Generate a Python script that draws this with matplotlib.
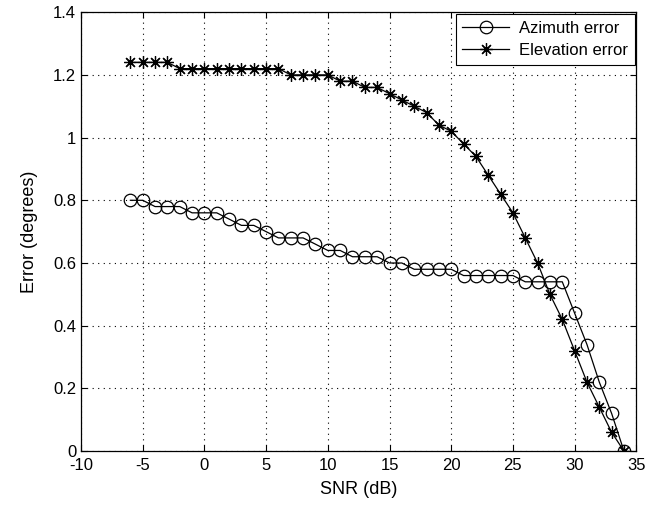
import matplotlib
matplotlib.use("Agg")
import matplotlib.pyplot as plt

snr = list(range(-6, 35))
azimuth = [0.80, 0.80, 0.78, 0.78, 0.78, 0.76, 0.76, 0.76, 0.74, 0.72,
           0.72, 0.70, 0.68, 0.68, 0.68, 0.66, 0.64, 0.64, 0.62, 0.62,
           0.62, 0.60, 0.60, 0.58, 0.58, 0.58, 0.58, 0.56, 0.56, 0.56,
           0.56, 0.56, 0.54, 0.54, 0.54, 0.54, 0.44, 0.34, 0.22, 0.12, 0.00]
elevation = [1.24, 1.24, 1.24, 1.24, 1.22, 1.22, 1.22, 1.22, 1.22, 1.22,
             1.22, 1.22, 1.22, 1.20, 1.20, 1.20, 1.20, 1.18, 1.18, 1.16,
             1.16, 1.14, 1.12, 1.10, 1.08, 1.04, 1.02, 0.98, 0.94, 0.88,
             0.82, 0.76, 0.68, 0.60, 0.50, 0.42, 0.32, 0.22, 0.14, 0.06, 0.00]
xticks = [-10, -5, 0, 5, 10, 15, 20, 25, 30, 35]
yticks = [0, 0.2, 0.4, 0.6, 0.8, 1, 1.2, 1.4]
yticklabels = ["0", "0.2", "0.4", "0.6", "0.8", "1", "1.2", "1.4"]

plt.rcParams['font.family'] = ['Liberation Sans', 'DejaVu Sans']
plt.rcParams['axes.unicode_minus'] = False

fig = plt.figure(figsize=(6.56, 5.08), dpi=100)
ax = fig.add_axes([0.1235, 0.112, 0.8465, 0.864])

ax.plot(snr, azimuth, color='black', lw=0.9, marker='o', markersize=9,
        markerfacecolor='none', markeredgecolor='black', markeredgewidth=0.9,
        label='Azimuth error')
ax.plot(snr, elevation, color='black', lw=0.9, marker=(8, 2, 0), markersize=9,
        markeredgecolor='black', markeredgewidth=0.9, label='Elevation error')

ax.set_xlim(-10, 35)
ax.set_ylim(0, 1.4)
ax.set_xticks(xticks)
ax.set_yticks(yticks)
ax.set_yticklabels(yticklabels)
ax.tick_params(direction='in', labelsize=12, length=4, width=0.8, top=True, right=True)
ax.tick_params(axis='x', pad=5)
ax.grid(True, linestyle=(0, (1, 4)), color='black', linewidth=0.8)
for s in ax.spines.values():
    s.set_linewidth(0.9)
ax.set_xlabel('SNR (dB)', fontsize=13, labelpad=6)
ax.set_ylabel('Error (degrees)', fontsize=13, labelpad=11)

leg = ax.legend(loc='upper right', fontsize=12, fancybox=False, framealpha=1,
                edgecolor='black', borderaxespad=0.1, handlelength=2.8,
                borderpad=0.4, labelspacing=0.45, handletextpad=0.6)
leg.get_frame().set_linewidth(0.8)

fig.savefig('out.png', dpi=100)
